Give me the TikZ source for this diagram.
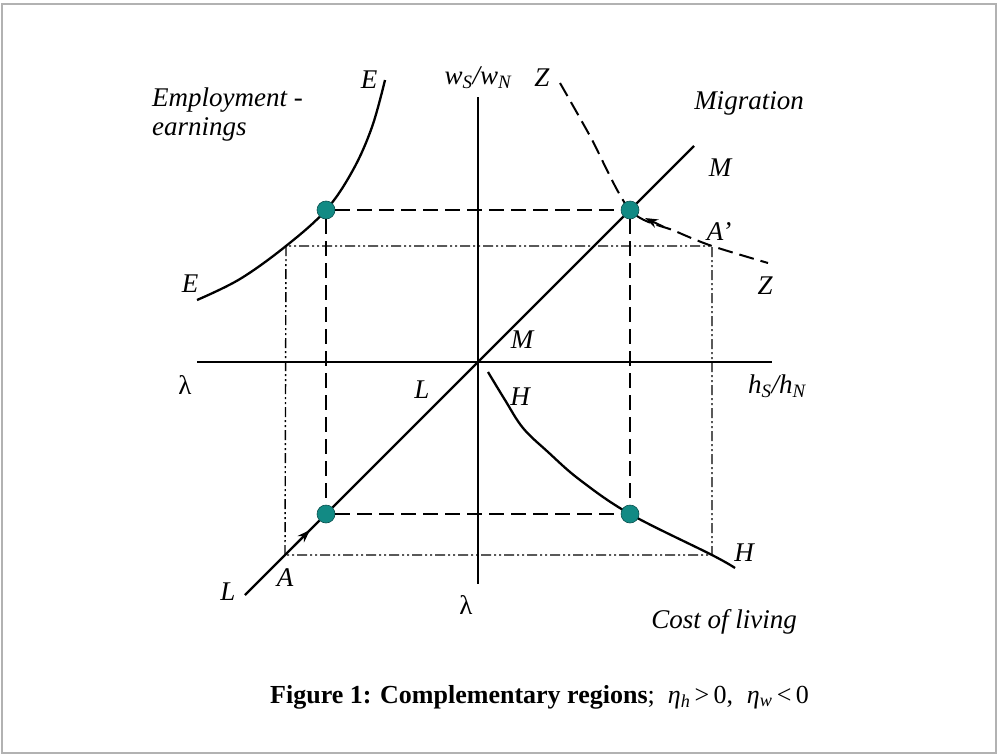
\documentclass[tikz,border=0pt]{standalone}
\usepackage{fontspec}
\setmainfont{Liberation Serif}
\usetikzlibrary{arrows.meta,calc}
\definecolor{dotfill}{RGB}{18,138,132}
\definecolor{dotline}{RGB}{10,80,78}
\begin{document}
\begin{tikzpicture}[x=1pt,y=-1pt,
  lbl/.style={font=\itshape\fontsize{27}{30}\selectfont, inner sep=0pt},
  greek/.style={font=\fontsize{27}{30}\selectfont, inner sep=0pt},
  dotnode/.style={circle, fill=dotfill, draw=dotline, line width=0.6pt, minimum size=18pt, inner sep=0pt},
  dsh/.style={dash pattern=on 15pt off 7pt, line width=2pt},
  ddot/.style={dash pattern=on 10pt off 3pt on 2pt off 3pt on 2pt off 3pt, line width=1.4pt},
  axis/.style={line width=2.5pt},
  crv/.style={line width=2.3pt},
  tip/.style={-{Stealth[length=13pt,width=9pt]}, line width=2pt}]
\useasboundingbox (0,0) rectangle (998,755);
\draw[gray!60, line width=2.5pt] (2,4) rectangle (996,753);

% axes
\coordinate (O) at (478,362);
\coordinate (ytop) at (478,97);
\coordinate (ybot) at (478,584);
\coordinate (xl) at (197,362);
\coordinate (xr) at (772,362);
\coordinate (Lend) at (245,595);
\coordinate (Mend) at (694,146);
\draw[axis] (ytop) -- (ybot);
\draw[axis] (xl) -- (xr);
\draw[crv] (Lend) -- (Mend);

% dash-dot-dot rectangle
\coordinate (cTL) at (286,246);
\coordinate (cTR) at (712,246);
\coordinate (cBL) at (285,555);
\coordinate (cBR) at (712,555);
\draw[ddot] (cBL) -- (cTL) -- (cTR) -- (cBR) -- cycle;

% curves
\draw[crv] plot[smooth, tension=0.6] coordinates {(197,300) (240,279) (286,246) (326,210) (353,170) (372,127) (385,80)};
\draw[dsh] plot[smooth, tension=0.5] coordinates {(560,83) (590,136) (630,210) (675,231) (712,246) (768,263)};
\draw[crv] plot[smooth, tension=0.6] coordinates {(488,372) (505,400) (523,428) (548,452) (580,480) (630,514) (712,555) (735,568)};

% dots
\node[dotnode] (dUL) at (326,210) {};
\node[dotnode] (dUR) at (630,210) {};
\node[dotnode] (dLL) at (326,514) {};
\node[dotnode] (dLR) at (630,514) {};
\draw[dsh] (dUL) -- (dUR);
\draw[dsh] (dLL) -- (dLR);
\draw[dsh] (dUL) -- (dLL);
\draw[dsh] (dUR) -- (dLR);

% arrows
\coordinate (zA) at (664,227);
\coordinate (zB) at (645,218);
\draw[tip] (zA) -- (zB);
\coordinate (lA) at (294,546);
\coordinate (lB) at (310,530);
\draw[tip] (lA) -- (lB);

% labels
\node[lbl, anchor=west] (emp) at (152,100) {Employment -};
\node[lbl, anchor=west] (earn) at (152,129) {earnings};
\node[lbl] (Et) at (369,80) {E};
\node[lbl] (El) at (190,284) {E};
\node[lbl] (wlab) at (478,78) {w\textsubscript{\itshape S}/w\textsubscript{\itshape N}};
\node[lbl] (Zt) at (542,78) {Z};
\node[lbl] (mig) at (749,103) {Migration};
\node[lbl] (Mu) at (720,168) {M};
\node[lbl] (Ap) at (719,232) {A’};
\node[lbl] (Zr) at (765,286) {Z};
\node[lbl] (Mo) at (522,340) {M};
\node[greek] (lamL) at (185,385) {λ};
\node[lbl] (Lo) at (422,390) {L};
\node[lbl] (Ho) at (520,397) {H};
\node[lbl] (hlab) at (777,386) {h\textsubscript{\itshape S}/h\textsubscript{\itshape N}};
\node[lbl] (Alab) at (285,578) {A};
\node[lbl] (Lb) at (228,592) {L};
\node[lbl] (Hb) at (744,553) {H};
\node[greek] (lamB) at (466,605) {λ};
\node[lbl] (col) at (724,622) {Cost of living};
\node[font=\fontsize{26}{29}\selectfont, inner sep=0pt, anchor=west] (cap) at (270,697)
  {\textbf{Figure 1: Complementary regions};\enspace \textit{η}\textsubscript{\itshape h}\,>\,0,\; \textit{η}\textsubscript{\itshape w}\,<\,0};
\end{tikzpicture}
\end{document}
